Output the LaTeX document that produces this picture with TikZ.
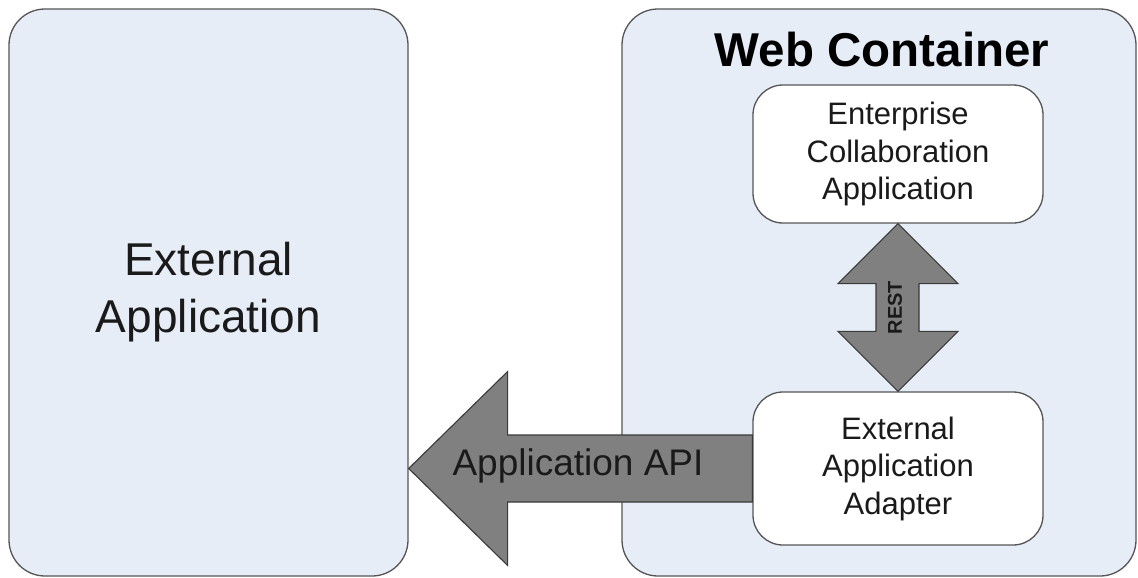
\documentclass[tikz,border=0pt]{standalone}
\usepackage{fontspec}
\setmainfont{Liberation Sans}
\usetikzlibrary{calc}
\definecolor{boxfill}{HTML}{E6EDF7}
\definecolor{boxline}{HTML}{555555}
\definecolor{arrfill}{HTML}{808080}
\definecolor{arrline}{HTML}{3A3A3A}
\definecolor{txt}{HTML}{1A1A1A}
\tikzset{
  container/.style={draw=boxline, fill=boxfill, line width=1.3pt, rounded corners=36pt, inner sep=0pt, text=txt},
  appbox/.style={draw=boxline, fill=white, line width=1.3pt, rounded corners=30pt, inner sep=0pt, minimum width=290pt, text=txt, align=center, font=\fontsize{31}{37.5}\selectfont},
  fatarrow/.style={draw=arrline, fill=arrfill, line width=1.1pt, line join=miter},
}
\begin{document}
\begin{tikzpicture}[x=1pt,y=-1pt]
\useasboundingbox (0,0) rectangle (1138,578);
% containers
\node[container, minimum width=399pt, minimum height=567pt, align=center,
      font=\fontsize{46}{57}\selectfont] (ext) at (208.5,292.5) {External\\Application};
\node[container, minimum width=514pt, minimum height=567pt] (web) at (879,292.5) {};
\node[font=\bfseries\fontsize{47.5}{55}\selectfont, text=black, inner sep=0pt] (wct) at (882,50) {Web Container};
% inner boxes
\node[appbox, minimum height=138pt] (eca) at (898,154) {Enterprise\\Collaboration\\Application};
\node[appbox, minimum height=153pt] (ada) at (898,468.5) {External\\Application\\Adapter};
% REST double arrow
\draw[fatarrow] (eca.south) -- ($(eca.south)+(60,60)$) -- ($(eca.south)+(21,60)$)
  -- ($(ada.north)+(21,-60)$) -- ($(ada.north)+(60,-60)$) -- (ada.north)
  -- ($(ada.north)+(-60,-60)$) -- ($(ada.north)+(-22,-60)$)
  -- ($(eca.south)+(-22,60)$) -- ($(eca.south)+(-60,60)$) -- cycle;
\node[rotate=90, font=\bfseries\fontsize{20}{22}\selectfont, text=txt, inner sep=0pt] (rest)
  at ($(eca.south)!0.5!(ada.north)+(-3,0)$) {REST};
% Application API arrow
\coordinate (tip) at (ext.east |- ada.west);
\draw[fatarrow] ($(ada.west)+(0,-33.5)$) -- ($(tip)+(99,-33.5)$) -- ($(tip)+(99,-97)$)
  -- (tip) -- ($(tip)+(99,97)$) -- ($(tip)+(99,33.5)$) -- ($(ada.west)+(0,33.5)$) -- cycle;
\node[font=\fontsize{37}{44}\selectfont, text=txt, inner sep=0pt] (api) at (578,466) {Application API};
\end{tikzpicture}
\end{document}
